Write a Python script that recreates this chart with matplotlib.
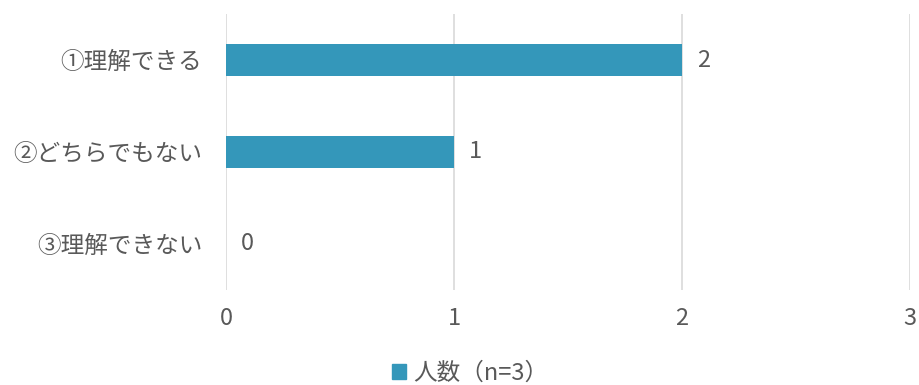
import matplotlib.pyplot as plt
from matplotlib.patches import Patch

plt.rcParams['font.family'] = ['Noto Sans CJK JP', 'DejaVu Sans']

# survey answers and counts
categories = ['①理解できる', '②どちらでもない', '③理解できない']
counts = [2, 1, 0]
series_name = '人数（n=3）'

BAR_COLOR = '#3497BA'
TEXT_COLOR = '#595959'
GRID_COLOR = '#D9D9D9'
FS = 17

fig = plt.figure(figsize=(9.2, 3.85), dpi=100)
ax = fig.add_axes([0.2457, 0.2468, 0.7435, 0.7168])

y = list(range(len(categories)))
ax.barh(y, counts, height=0.35, color=BAR_COLOR, zorder=3)

for yi, v in zip(y, counts):
    ax.annotate(str(v), (v, yi), xytext=(11, 0), textcoords='offset points',
                va='center', ha='left', fontsize=FS, color=TEXT_COLOR)

ax.set_xlim(0, 3)
ax.set_ylim(len(categories) - 0.5, -0.5)
ax.set_xticks([0, 1, 2, 3])
ax.set_yticks(y)
ax.set_yticklabels(categories)
ax.tick_params(axis='both', length=0, labelsize=FS, labelcolor=TEXT_COLOR)
ax.tick_params(axis='y', pad=17)
ax.tick_params(axis='x', pad=12)
ax.grid(axis='x', color=GRID_COLOR, linewidth=1.2, zorder=0)
for s in ax.spines.values():
    s.set_visible(False)

fig.legend(handles=[Patch(color=BAR_COLOR, label=series_name)],
           loc='center', bbox_to_anchor=(0.511, 0.03), frameon=False,
           handlelength=0.6, handleheight=0.6, handletextpad=0.3,
           prop={'size': FS}, labelcolor=TEXT_COLOR)

fig.savefig('out.png', dpi=100, facecolor='white')
